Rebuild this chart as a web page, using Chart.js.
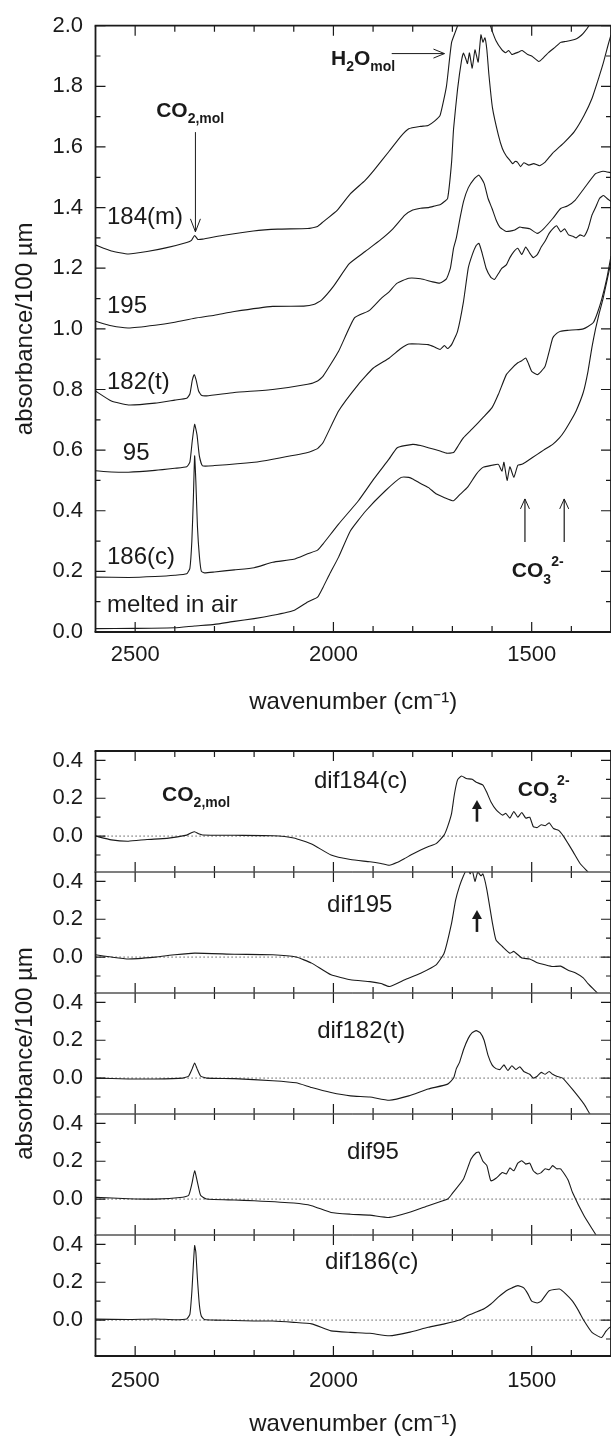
<!DOCTYPE html>
<html>
<head>
<meta charset="utf-8">
<script src="https://cdn.jsdelivr.net/npm/chart.js@4.4.1/dist/chart.umd.min.js"></script>
<style>
  html, body { margin: 0; padding: 0; background: #fff; width: 611px; height: 1437px; overflow: hidden; position: relative; }
  canvas { position: absolute; left: 0; }
</style>
</head>
<body>
<canvas id="spectra"></canvas>
<canvas id="d184"></canvas>
<canvas id="d195"></canvas>
<canvas id="d182"></canvas>
<canvas id="d95"></canvas>
<canvas id="d186"></canvas>
<script>
// ---- tick values ----
const xMajorTicks = [2500, 2000, 1500]
const xMinorTicks = [2400, 2300, 2200, 2100, 1900, 1800, 1700, 1600, 1400]
const absMajorTicks = [0.0, 0.2, 0.4, 0.6, 0.8, 1.0, 1.2, 1.4, 1.6, 1.8, 2.0]
const absMinorTicks = [0.1, 0.3, 0.5, 0.7, 0.9, 1.1, 1.3, 1.5, 1.7, 1.9]
const difMajorTicks = [0.0, 0.2, 0.4]
const difMinorTicks = [-0.1, 0.1, 0.3]

// ---- top panel: absorbance spectra ----
const wn184m = [2600, 2560, 2517, 2470, 2420, 2370, 2358, 2350, 2342, 2330, 2280, 2202, 2140, 2065, 2040, 2026, 1990, 1957, 1920, 1898, 1860, 1830, 1810, 1780, 1761, 1745, 1731, 1715, 1702, 1687, 1670, 1620, 1604, 1590, 1575, 1566, 1558, 1550, 1545, 1535, 1524, 1510, 1500, 1482, 1470, 1457, 1440, 1427, 1415, 1402, 1390, 1381, 1370, 1356, 1330, 1300]
const abs184m = [1.277, 1.257, 1.247, 1.255, 1.268, 1.285, 1.292, 1.308, 1.295, 1.296, 1.308, 1.323, 1.329, 1.331, 1.338, 1.353, 1.392, 1.446, 1.49, 1.523, 1.585, 1.635, 1.660, 1.668, 1.671, 1.685, 1.704, 1.80, 1.945, 2.0, 2.15, 2.15, 2.0, 1.95, 1.92, 1.911, 1.918, 1.905, 1.907, 1.912, 1.918, 1.905, 1.90, 1.882, 1.895, 1.912, 1.93, 1.945, 1.948, 1.951, 1.955, 1.962, 1.975, 2.0, 2.08, 2.15]

const wn195 = [2600, 2560, 2517, 2450, 2400, 2350, 2300, 2250, 2153, 2075, 2050, 2030, 2000, 1960, 1920, 1880, 1850, 1820, 1800, 1780, 1760, 1745, 1730, 1720, 1712, 1702, 1697, 1687, 1677, 1672, 1666, 1662, 1657, 1650, 1643, 1635, 1628, 1623, 1618, 1613, 1608, 1599, 1584, 1574, 1564, 1555, 1548, 1542, 1536, 1528, 1520, 1507, 1495, 1480, 1466, 1447, 1430, 1417, 1393, 1368, 1348, 1329, 1319, 1307, 1300]
const abs195 = [1.025, 1.01, 1.003, 1.012, 1.022, 1.035, 1.045, 1.057, 1.074, 1.075, 1.08, 1.095, 1.14, 1.215, 1.255, 1.295, 1.33, 1.375, 1.392, 1.398, 1.40, 1.405, 1.41, 1.42, 1.43, 1.55, 1.66, 1.79, 1.885, 1.91, 1.89, 1.875, 1.91, 1.86, 1.92, 1.88, 1.97, 1.946, 1.96, 1.92, 1.84, 1.73, 1.639, 1.595, 1.57, 1.556, 1.545, 1.552, 1.55, 1.535, 1.548, 1.54, 1.545, 1.538, 1.55, 1.58, 1.60, 1.616, 1.65, 1.704, 1.76, 1.836, 1.879, 1.938, 1.97]

const wn182t = [2600, 2560, 2517, 2450, 2400, 2370, 2362, 2356, 2351, 2346, 2340, 2333, 2320, 2250, 2153, 2065, 2040, 2026, 1987, 1947, 1910, 1880, 1859, 1840, 1810, 1780, 1750, 1731, 1715, 1705, 1697, 1690, 1680, 1672, 1660, 1645, 1633, 1620, 1610, 1600, 1590, 1580, 1564, 1545, 1530, 1523, 1505, 1486, 1470, 1447, 1427, 1410, 1390, 1368, 1339, 1320, 1300]
const abs182t = [0.795, 0.762, 0.749, 0.755, 0.765, 0.771, 0.785, 0.83, 0.849, 0.83, 0.795, 0.781, 0.779, 0.79, 0.80, 0.817, 0.828, 0.844, 0.926, 1.036, 1.06, 1.10, 1.123, 1.15, 1.167, 1.165, 1.155, 1.151, 1.165, 1.2, 1.266, 1.30, 1.37, 1.42, 1.465, 1.495, 1.507, 1.48, 1.43, 1.397, 1.36, 1.335, 1.321, 1.325, 1.336, 1.334, 1.33, 1.315, 1.33, 1.364, 1.397, 1.405, 1.425, 1.463, 1.512, 1.52, 1.515]

const wn95 = [2600, 2560, 2517, 2450, 2400, 2370, 2362, 2356, 2350, 2344, 2338, 2330, 2300, 2200, 2153, 2065, 2040, 2026, 1987, 1937, 1900, 1859, 1830, 1810, 1785, 1761, 1745, 1731, 1720, 1712, 1702, 1687, 1672, 1660, 1650, 1640, 1633, 1625, 1615, 1603, 1594, 1585, 1575, 1564, 1555, 1545, 1535, 1525, 1515, 1505, 1496, 1486, 1476, 1466, 1456, 1447, 1437, 1427, 1417, 1407, 1395, 1388, 1378, 1368, 1358, 1348, 1339, 1329, 1319, 1310, 1300]
const abs95 = [0.532, 0.528, 0.527, 0.533, 0.54, 0.545, 0.56, 0.63, 0.685, 0.65, 0.58, 0.548, 0.549, 0.56, 0.57, 0.592, 0.605, 0.625, 0.729, 0.817, 0.87, 0.904, 0.935, 0.95, 0.95, 0.948, 0.94, 0.932, 0.945, 0.935, 0.948, 0.992, 1.09, 1.2, 1.244, 1.275, 1.282, 1.25, 1.2, 1.17, 1.163, 1.18, 1.2, 1.211, 1.235, 1.255, 1.266, 1.245, 1.27, 1.25, 1.235, 1.245, 1.27, 1.29, 1.315, 1.33, 1.34, 1.32, 1.33, 1.31, 1.305, 1.30, 1.31, 1.305, 1.33, 1.375, 1.40, 1.43, 1.44, 1.43, 1.42]

const wn186c = [2600, 2517, 2450, 2400, 2370, 2362, 2357, 2353, 2350, 2347, 2343, 2338, 2333, 2325, 2300, 2250, 2200, 2153, 2100, 2065, 2040, 2026, 1987, 1937, 1898, 1860, 1839, 1800, 1780, 1761, 1731, 1715, 1697, 1685, 1672, 1650, 1623, 1600, 1584, 1564, 1550, 1535, 1525, 1515, 1508, 1500, 1486, 1476, 1466, 1455, 1447, 1437, 1427, 1410, 1388, 1370, 1358, 1345, 1335, 1323, 1310, 1300]
const abs186c = [0.181, 0.18, 0.183, 0.187, 0.192, 0.21, 0.3, 0.45, 0.581, 0.5, 0.35, 0.25, 0.2, 0.195, 0.198, 0.205, 0.212, 0.23, 0.24, 0.258, 0.27, 0.291, 0.356, 0.433, 0.505, 0.57, 0.608, 0.619, 0.615, 0.608, 0.597, 0.59, 0.592, 0.615, 0.641, 0.67, 0.707, 0.74, 0.784, 0.849, 0.87, 0.888, 0.895, 0.904, 0.885, 0.86, 0.849, 0.86, 0.877, 0.93, 0.97, 0.985, 0.992, 0.995, 0.997, 1.0, 1.008, 1.02, 1.05, 1.10, 1.17, 1.24]

const wnAir = [2600, 2500, 2400, 2350, 2300, 2250, 2200, 2153, 2100, 2065, 2040, 2026, 2010, 1987, 1957, 1918, 1869, 1829, 1810, 1800, 1780, 1761, 1740, 1721, 1697, 1680, 1662, 1640, 1623, 1600, 1584, 1575, 1570, 1562, 1555, 1545, 1535, 1525, 1510, 1486, 1470, 1447, 1430, 1417, 1400, 1388, 1370, 1358, 1348, 1339, 1330, 1320, 1310, 1300]
const absAir = [0.011, 0.012, 0.014, 0.02, 0.025, 0.035, 0.044, 0.055, 0.071, 0.099, 0.115, 0.148, 0.19, 0.247, 0.334, 0.40, 0.466, 0.51, 0.51, 0.505, 0.49, 0.477, 0.455, 0.444, 0.433, 0.455, 0.477, 0.52, 0.543, 0.55, 0.553, 0.53, 0.56, 0.5, 0.545, 0.51, 0.55, 0.553, 0.565, 0.586, 0.6, 0.619, 0.64, 0.663, 0.7, 0.729, 0.79, 0.86, 0.94, 1.0, 1.05, 1.1, 1.16, 1.22]

// ---- lower panels: difference spectra ----
const wnDif184 = [2600, 2560, 2517, 2470, 2420, 2370, 2358, 2350, 2340, 2330, 2250, 2153, 2100, 2055, 2006, 1957, 1908, 1880, 1859, 1840, 1820, 1800, 1780, 1760, 1741, 1721, 1712, 1702, 1695, 1687, 1677, 1665, 1650, 1640, 1623, 1613, 1603, 1590, 1574, 1565, 1555, 1545, 1535, 1525, 1515, 1505, 1496, 1486, 1476, 1466, 1456, 1445, 1432, 1420, 1408, 1395, 1378, 1358, 1350]
const dif184 = [0.0, -0.02, -0.027, -0.018, -0.012, 0.005, 0.018, 0.023, 0.012, 0.006, 0.004, 0.002, -0.01, -0.042, -0.1, -0.124, -0.136, -0.145, -0.154, -0.14, -0.118, -0.095, -0.074, -0.055, -0.04, 0.005, 0.05, 0.12, 0.22, 0.297, 0.318, 0.305, 0.30, 0.285, 0.27, 0.23, 0.182, 0.14, 0.111, 0.12, 0.095, 0.13, 0.1, 0.125, 0.095, 0.1, 0.05, 0.045, 0.06, 0.055, 0.07, 0.04, 0.03, 0.0, -0.04, -0.085, -0.145, -0.19, -0.21]

const wnDif195 = [2600, 2560, 2517, 2450, 2400, 2350, 2250, 2153, 2094, 2055, 2006, 1957, 1908, 1880, 1859, 1820, 1780, 1741, 1721, 1702, 1692, 1682, 1672, 1662, 1655, 1650, 1643, 1636, 1628, 1623, 1613, 1599, 1590, 1574, 1555, 1545, 1525, 1505, 1486, 1466, 1447, 1427, 1408, 1388, 1370, 1358, 1339, 1330]
const dif195 = [0.012, 0.0, -0.01, 0.0, 0.012, 0.021, 0.015, 0.012, 0.0, -0.032, -0.094, -0.12, -0.13, -0.14, -0.156, -0.12, -0.085, -0.041, 0.02, 0.18, 0.3, 0.375, 0.43, 0.47, 0.44, 0.46, 0.40, 0.45, 0.43, 0.44, 0.356, 0.18, 0.09, 0.056, 0.02, 0.03, -0.005, -0.01, -0.03, -0.041, -0.05, -0.048, -0.07, -0.085, -0.11, -0.14, -0.18, -0.2]

const wnDif182 = [2600, 2517, 2450, 2380, 2365, 2356, 2350, 2344, 2335, 2320, 2250, 2153, 2094, 2055, 2006, 1957, 1908, 1859, 1810, 1761, 1712, 1697, 1690, 1682, 1672, 1660, 1650, 1640, 1630, 1620, 1610, 1600, 1590, 1580, 1570, 1560, 1550, 1540, 1530, 1520, 1505, 1496, 1486, 1476, 1466, 1456, 1447, 1437, 1422, 1397, 1368, 1353, 1345]
const dif182 = [0.0, -0.005, -0.005, 0.0, 0.01, 0.05, 0.08, 0.05, 0.01, 0.0, -0.003, -0.014, -0.025, -0.05, -0.076, -0.094, -0.1, -0.117, -0.094, -0.058, -0.032, 0.0, 0.05, 0.083, 0.15, 0.21, 0.24, 0.251, 0.24, 0.2, 0.12, 0.07, 0.05, 0.045, 0.07, 0.04, 0.065, 0.045, 0.06, 0.035, 0.02, 0.0, 0.01, 0.03, 0.02, 0.035, 0.02, 0.01, 0.0, -0.06, -0.138, -0.19, -0.21]

const wnDif95 = [2600, 2517, 2450, 2380, 2365, 2357, 2350, 2343, 2335, 2320, 2250, 2200, 2100, 2055, 2006, 1957, 1908, 1859, 1810, 1761, 1712, 1700, 1672, 1653, 1640, 1633, 1623, 1613, 1603, 1590, 1574, 1564, 1555, 1545, 1535, 1525, 1515, 1505, 1496, 1486, 1476, 1466, 1456, 1447, 1437, 1427, 1408, 1397, 1368, 1339, 1330]
const dif95 = [0.009, 0.002, 0.0, 0.01, 0.02, 0.08, 0.15, 0.09, 0.02, 0.0, -0.005, -0.009, -0.021, -0.035, -0.071, -0.08, -0.085, -0.097, -0.071, -0.035, 0.0, 0.03, 0.106, 0.212, 0.245, 0.248, 0.2, 0.177, 0.097, 0.11, 0.14, 0.133, 0.165, 0.15, 0.19, 0.203, 0.185, 0.19, 0.15, 0.133, 0.14, 0.16, 0.155, 0.177, 0.16, 0.16, 0.1, 0.035, -0.088, -0.186, -0.22]

const wnDif186 = [2600, 2517, 2450, 2400, 2370, 2362, 2357, 2353, 2350, 2347, 2343, 2338, 2333, 2325, 2300, 2250, 2200, 2153, 2100, 2055, 2006, 1957, 1908, 1859, 1810, 1761, 1720, 1682, 1660, 1643, 1620, 1603, 1585, 1564, 1550, 1535, 1520, 1510, 1500, 1486, 1476, 1456, 1430, 1415, 1397, 1382, 1368, 1348, 1324, 1313, 1304, 1300]
const dif186 = [0.005, 0.003, 0.006, 0.002, 0.006, 0.03, 0.15, 0.3, 0.394, 0.36, 0.22, 0.08, 0.02, 0.003, 0.0, -0.002, -0.005, -0.005, -0.012, -0.02, -0.057, -0.065, -0.07, -0.083, -0.065, -0.038, -0.02, 0.0, 0.025, 0.04, 0.06, 0.085, 0.12, 0.155, 0.17, 0.182, 0.17, 0.14, 0.1, 0.09, 0.1, 0.155, 0.164, 0.14, 0.1, 0.05, -0.004, -0.065, -0.092, -0.06, -0.04, -0.035]

// ---- drawing ----
const FONT = "'Liberation Sans', Arial, Helvetica, sans-serif"
const INK = '#1a1a1a'

function pts(ws, vs) {
  return ws.map((w, i) => ({ x: w, y: vs[i] }))
}

// inward tick marks and the box round the plot area
const framePlugin = {
  id: 'frame',
  afterDraw(chart, args, o) {
    const { ctx, chartArea: a, scales: { x, y } } = chart
    ctx.save()
    ctx.strokeStyle = INK
    ctx.lineWidth = 1.2
    ctx.beginPath()
    for (const [vals, len] of [[xMajorTicks, 10], [xMinorTicks, 6]]) {
      for (const w of vals) {
        const px = x.getPixelForValue(w)
        ctx.moveTo(px, a.bottom); ctx.lineTo(px, a.bottom - len)
        ctx.moveTo(px, a.top); ctx.lineTo(px, a.top + len)
      }
    }
    for (const [vals, len] of [[o.yMajor, 10], [o.yMinor, 5]]) {
      for (const v of vals) {
        const py = y.getPixelForValue(v)
        ctx.moveTo(a.left, py); ctx.lineTo(a.left + len, py)
        ctx.moveTo(a.right, py); ctx.lineTo(a.right - len, py)
      }
    }
    ctx.stroke()
    const edge = (x1, y1, x2, y2, lw, col) => {
      ctx.beginPath()
      ctx.lineWidth = lw
      ctx.strokeStyle = col
      ctx.moveTo(x1, y1); ctx.lineTo(x2, y2)
      ctx.stroke()
    }
    const top = o.topEdge || [1.8, INK]
    const bot = o.bottomEdge || [1.8, INK]
    edge(a.left - 0.9, a.top, a.right, a.top, top[0], top[1])
    edge(a.left - 0.9, a.bottom, a.right, a.bottom, bot[0], bot[1])
    edge(a.left, a.top, a.left, a.bottom, 1.8, INK)
    edge(a.right, a.top, a.right, a.bottom, 1.8, INK)
    ctx.restore()
  }
}

// text labels and arrows placed in data coordinates
const notesPlugin = {
  id: 'notes',
  afterDatasetsDraw(chart, args, o) {
    const { ctx, scales: { x, y } } = chart
    ctx.save()
    ctx.fillStyle = INK
    ctx.strokeStyle = INK
    ctx.textBaseline = 'middle'
    ctx.textAlign = 'left'
    for (const n of o.texts || []) {
      let px = x.getPixelForValue(n.w)
      const py = y.getPixelForValue(n.v)
      for (const p of n.parts) {
        ctx.font = (p.bold ? 'bold ' : '') + p.size + 'px ' + FONT
        ctx.fillText(p.t, px, py + (p.dy || 0))
        px += ctx.measureText(p.t).width + (p.gap || 0)
      }
    }
    for (const ar of o.arrows || []) {
      const x1 = x.getPixelForValue(ar.from[0]), y1 = y.getPixelForValue(ar.from[1])
      const x2 = x.getPixelForValue(ar.to[0]), y2 = y.getPixelForValue(ar.to[1])
      const ang = Math.atan2(y2 - y1, x2 - x1)
      const hl = ar.hl || 10, hw = ar.hw || 5
      const bx = x2 - hl * Math.cos(ang), by = y2 - hl * Math.sin(ang)
      const nx = -Math.sin(ang) * hw, ny = Math.cos(ang) * hw
      ctx.lineWidth = ar.lw || 1
      ctx.beginPath()
      ctx.moveTo(x1, y1)
      ctx.lineTo(ar.filled ? bx : x2, ar.filled ? by : y2)
      ctx.stroke()
      ctx.beginPath()
      ctx.moveTo(bx + nx, by + ny)
      ctx.lineTo(x2, y2)
      ctx.lineTo(bx - nx, by - ny)
      if (ar.filled) { ctx.closePath(); ctx.fill() } else { ctx.lineWidth = ar.hlw || 1; ctx.stroke() }
    }
    ctx.restore()
  }
}

function makePanel(id, p) {
  const el = document.getElementById(id)
  el.width = 611
  el.height = p.height
  el.style.top = p.top + 'px'
  const datasets = p.curves.map(c => ({
    data: pts(c[0], c[1]),
    borderColor: INK,
    borderWidth: 1.1,
    pointRadius: 0,
    tension: 0.15,
    fill: false,
    clip: 0
  }))
  if (p.zeroLine) {
    datasets.push({
      data: pts([2600, 1300], [0, 0]),
      borderColor: '#333',
      borderWidth: 1,
      borderDash: [1.2, 2.8],
      pointRadius: 0,
      clip: 0
    })
  }
  return new Chart(el, {
    type: 'line',
    data: { datasets },
    options: {
      responsive: false,
      animation: false,
      events: [],
      layout: { padding: { top: p.padTop, bottom: p.padBottom, left: 0, right: 0 } },
      plugins: {
        legend: { display: false },
        tooltip: { enabled: false },
        frame: { yMajor: p.yMajor, yMinor: p.yMinor, topEdge: p.topEdge, bottomEdge: p.bottomEdge },
        notes: p.notes
      },
      scales: {
        x: {
          type: 'linear',
          reverse: true,
          min: 1300,
          max: 2600,
          display: p.showX,
          grid: { display: false, drawTicks: false },
          border: { display: false },
          afterBuildTicks: s => { s.ticks = xMajorTicks.map(v => ({ value: v })) },
          afterFit: s => { s.height = p.showX ? p.xHeight : 0 },
          ticks: {
            autoSkip: false,
            maxRotation: 0,
            padding: p.xTickPad,
            color: INK,
            font: { family: FONT, size: 22 },
            callback: v => String(v)
          },
          title: {
            display: true,
            text: 'wavenumber (cm\u207B\u00B9)',
            color: INK,
            font: { family: FONT, size: 24, lineHeight: 1 },
            padding: { top: 0, bottom: p.xTitlePad }
          }
        },
        y: {
          type: 'linear',
          min: p.yMin,
          max: p.yMax,
          grid: { display: false, drawTicks: false },
          border: { display: false },
          afterBuildTicks: s => { s.ticks = p.yMajor.map(v => ({ value: v })) },
          afterFit: s => { s.width = 95.5 },
          ticks: {
            autoSkip: false,
            padding: 12.5,
            color: INK,
            font: { family: FONT, size: 22 },
            callback: v => v.toFixed(1)
          },
          title: {
            display: !!p.yTitle,
            text: 'absorbance/100 \u00B5m',
            color: INK,
            font: { family: FONT, size: 24, lineHeight: 1 },
            padding: { top: 13, bottom: 0 }
          }
        }
      }
    },
    plugins: [framePlugin, notesPlugin]
  })
}

const bold = (t, size, dy) => ({ t, size, bold: true, dy: dy || 0 })
const plain = t => ({ t, size: 24 })

makePanel('spectra', {
  top: 0, height: 722, padTop: 23, padBottom: 0,
  showX: true, xHeight: 90, xTickPad: 10, xTitlePad: 8,
  yMin: 0, yMax: 2.0, yMajor: absMajorTicks, yMinor: absMinorTicks, yTitle: true,
  curves: [[wn184m, abs184m], [wn195, abs195], [wn182t, abs182t], [wn95, abs95], [wn186c, abs186c], [wnAir, absAir]],
  notes: {
    texts: [
      { w: 2571, v: 1.369, parts: [plain('184(m)')] },
      { w: 2571, v: 1.074, parts: [plain('195')] },
      { w: 2571, v: 0.824, parts: [plain('182(t)')] },
      { w: 2531, v: 0.588, parts: [plain('95')] },
      { w: 2571, v: 0.246, parts: [plain('186(c)')] },
      { w: 2571, v: 0.089, parts: [plain('melted in air')] },
      { w: 2447, v: 1.718, parts: [bold('CO', 21), bold('2,mol', 14, 8)] },
      { w: 2006, v: 1.89, parts: [bold('H', 21), bold('2', 14, 8), bold('O', 21), bold('mol', 14, 8)] },
      { w: 1550, v: 0.202, parts: [bold('CO', 21), bold('3', 14, 9), bold('2-', 14, -9)] }
    ],
    arrows: [
      { from: [2348, 1.649], to: [2348, 1.32], lw: 1, hl: 13, hw: 5 },
      { from: [1853, 1.908], to: [1720, 1.908], lw: 1, hl: 11, hw: 4.5 },
      { from: [1517, 0.297], to: [1517, 0.439], lw: 1.2, hl: 10, hw: 4.5 },
      { from: [1418, 0.297], to: [1418, 0.439], lw: 1.2, hl: 10, hw: 4.5 }
    ]
  }
})

const difPanels = [
  { id: 'd184', top: 751, curve: [wnDif184, dif184], topEdge: [1.8, INK], bottomEdge: [1, '#555'],
    texts: [
      { w: 2432, v: 0.217, parts: [bold('CO', 21), bold('2,mol', 14, 8)] },
      { w: 2049, v: 0.291, parts: [plain('dif184(c)')] },
      { w: 1535, v: 0.243, parts: [bold('CO', 21), bold('3', 14, 9), bold('2-', 14, -9)] }
    ],
    arrows: [{ from: [1638, 0.076], to: [1638, 0.191], lw: 2.6, hl: 9, hw: 5, filled: true }] },
  { id: 'd195', top: 872, curve: [wnDif195, dif195], topEdge: [1, '#555'], bottomEdge: [1, '#555'],
    texts: [{ w: 2016, v: 0.276, parts: [plain('dif195')] }],
    arrows: [{ from: [1638, 0.133], to: [1638, 0.249], lw: 2.6, hl: 9, hw: 5, filled: true }] },
  { id: 'd182', top: 993, curve: [wnDif182, dif182], topEdge: [1, '#555'], bottomEdge: [1, '#555'], yTitle: true,
    texts: [{ w: 2041, v: 0.249, parts: [plain('dif182(t)')] }], arrows: [] },
  { id: 'd95', top: 1114, curve: [wnDif95, dif95], topEdge: [1, '#555'], bottomEdge: [1, '#555'],
    texts: [{ w: 1966, v: 0.249, parts: [plain('dif95')] }], arrows: [] },
  { id: 'd186', top: 1235, curve: [wnDif186, dif186], topEdge: [1, '#555'], bottomEdge: [1.8, INK], showX: true,
    texts: [{ w: 2021, v: 0.307, parts: [plain('dif186(c)')] }], arrows: [] }
]

for (const d of difPanels) {
  const pad = d.yTitle ? 140 : 40
  makePanel(d.id, {
    top: d.top - pad,
    height: pad + 121 + (d.showX ? 80 : pad),
    padTop: pad,
    padBottom: d.showX ? 0 : pad,
    showX: !!d.showX, xHeight: 80, xTickPad: 12, xTitlePad: 0,
    yMin: -0.19, yMax: 0.45, yMajor: difMajorTicks, yMinor: difMinorTicks, yTitle: d.yTitle,
    topEdge: d.topEdge, bottomEdge: d.bottomEdge,
    zeroLine: true,
    curves: [d.curve],
    notes: { texts: d.texts, arrows: d.arrows }
  })
}
</script>
</body>
</html>
